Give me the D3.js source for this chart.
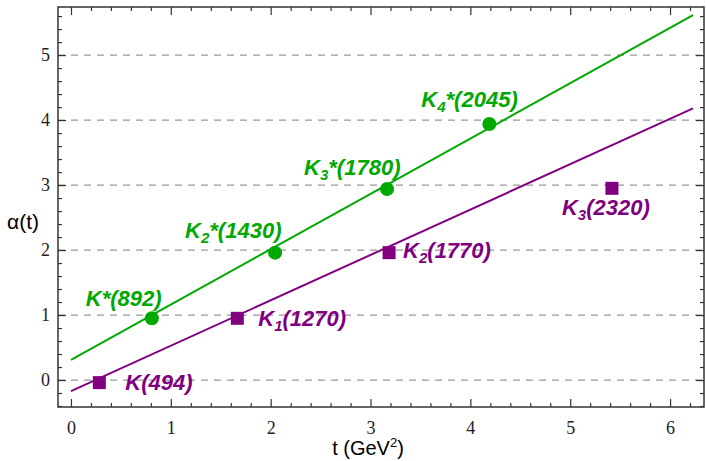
<!DOCTYPE html>
<html>
<head>
<meta charset="utf-8">
<script src="https://cdn.jsdelivr.net/npm/d3@7"></script>
<style>
  body { margin: 0; background: #fff; }
  svg { display: block; }
  .tick text { font-family: "Liberation Serif", "DejaVu Serif", serif !important; font-size: 18px; fill: #222; }
</style>
</head>
<body>
<div id="chart"></div>
<script>
// Regge trajectories
const vectorNames = ['K*(892)', 'K2*(1430)', 'K3*(1780)', 'K4*(2045)'];
const vectorT = [0.81, 2.044, 3.166, 4.19];
const vectorAlpha = [0.95, 1.96, 2.94, 3.94];
const vectorLabels = [['K', '', '*(892)'], ['K', '2', '*(1430)'], ['K', '3', '*(1780)'], ['K', '4', '*(2045)']];

const pseudoNames = ['K(494)', 'K1(1270)', 'K2(1770)', 'K3(2320)'];
const pseudoT = [0.284, 1.666, 3.186, 5.418];
const pseudoAlpha = [-0.04, 0.95, 1.96, 2.95];
const pseudoLabels = [['K', '', '(494)'], ['K', '1', '(1270)'], ['K', '2', '(1770)'], ['K', '3', '(2320)']];

// fitted lines: [t, alpha] end points
const vectorLine = [[0, 0.31], [6.23, 5.615]];
const pseudoLine = [[0, -0.17], [6.23, 4.18]];

const xTicks = [0, 1, 2, 3, 4, 5, 6];
const yTicks = [0, 1, 2, 3, 4, 5];

const width = 706, height = 461;
const margin = {left: 58, right: 2, top: 7, bottom: 54};

const green = '#00a800';
const purple = '#800080';

const svg = d3.select('#chart').append('svg')
    .attr('width', width)
    .attr('height', height);

const x = d3.scaleLinear()
    .domain([-0.13, 6.34])
    .range([margin.left, width - margin.right]);

const y = d3.scaleLinear()
    .domain([-0.415, 5.74])
    .range([height - margin.bottom, margin.top]);

const minorX = d3.range(0, 32).map(i => i * 0.2).filter(v => v <= 6.34 && Math.abs(v - Math.round(v)) > 0.01);
const minorY = d3.range(-2, 29).map(i => i * 0.2).filter(v => v >= -0.415 && v <= 5.74 && Math.abs(v - Math.round(v)) > 0.01);

// dashed grid lines
svg.append('g')
  .selectAll('line')
  .data(yTicks)
  .join('line')
    .attr('x1', x.range()[0])
    .attr('x2', x.range()[1])
    .attr('y1', d => y(d))
    .attr('y2', d => y(d))
    .attr('stroke', '#999')
    .attr('stroke-width', 1.2)
    .attr('stroke-dasharray', '7,6');

// axes on all four sides, ticks pointing in
function styleAxis(g) {
  g.select('.domain').remove();
  g.selectAll('line').attr('stroke', '#333').attr('stroke-width', 1.2);
}

const plotBottom = y.range()[0], plotTop = y.range()[1];
const plotLeft = x.range()[0], plotRight = x.range()[1];

svg.append('g')
    .attr('transform', `translate(0,${plotBottom})`)
    .call(d3.axisBottom(x).tickValues(xTicks).tickSize(-8).tickPadding(14).tickFormat(d3.format('d')))
    .call(styleAxis);
svg.append('g')
    .attr('transform', `translate(0,${plotBottom})`)
    .call(d3.axisBottom(x).tickValues(minorX).tickSize(-4).tickFormat(''))
    .call(styleAxis);
svg.append('g')
    .attr('transform', `translate(0,${plotTop})`)
    .call(d3.axisTop(x).tickValues(xTicks).tickSize(-8).tickFormat(''))
    .call(styleAxis);
svg.append('g')
    .attr('transform', `translate(0,${plotTop})`)
    .call(d3.axisTop(x).tickValues(minorX).tickSize(-4).tickFormat(''))
    .call(styleAxis);

svg.append('g')
    .attr('transform', `translate(${plotLeft},0)`)
    .call(d3.axisLeft(y).tickValues(yTicks).tickSize(-8).tickPadding(8).tickFormat(d3.format('d')))
    .call(styleAxis);
svg.append('g')
    .attr('transform', `translate(${plotLeft},0)`)
    .call(d3.axisLeft(y).tickValues(minorY).tickSize(-4).tickFormat(''))
    .call(styleAxis);
svg.append('g')
    .attr('transform', `translate(${plotRight},0)`)
    .call(d3.axisRight(y).tickValues(yTicks).tickSize(-8).tickFormat(''))
    .call(styleAxis);
svg.append('g')
    .attr('transform', `translate(${plotRight},0)`)
    .call(d3.axisRight(y).tickValues(minorY).tickSize(-4).tickFormat(''))
    .call(styleAxis);

// frame
svg.append('rect')
    .attr('x', plotLeft)
    .attr('y', plotTop)
    .attr('width', plotRight - plotLeft)
    .attr('height', plotBottom - plotTop)
    .attr('fill', 'none')
    .attr('stroke', '#333')
    .attr('stroke-width', 1.5);

// trajectories
const line = d3.line().x(d => x(d[0])).y(d => y(d[1]));
svg.append('path').attr('d', line(vectorLine)).attr('stroke', green).attr('stroke-width', 2).attr('fill', 'none');
svg.append('path').attr('d', line(pseudoLine)).attr('stroke', purple).attr('stroke-width', 2).attr('fill', 'none');

// markers
svg.append('g').selectAll('circle')
  .data(vectorT)
  .join('circle')
    .attr('cx', d => x(d))
    .attr('cy', (d, i) => y(vectorAlpha[i]))
    .attr('r', 7)
    .attr('fill', green);

svg.append('g').selectAll('rect')
  .data(pseudoT)
  .join('rect')
    .attr('x', d => x(d) - 6.5)
    .attr('y', (d, i) => y(pseudoAlpha[i]) - 6.5)
    .attr('width', 13)
    .attr('height', 13)
    .attr('fill', purple);

// label offsets from marker centre (px)
const vectorOffsets = [[-66, -12], [-90, -15], [-83, -14], [-68, -17]];
const pseudoOffsets = [[26, 7], [21, 8], [14, 5], [-50, 27]];

function addLabels(ts, alphas, labels, offsets, color) {
  const txt = svg.append('g').selectAll('text')
    .data(labels)
    .join('text')
      .attr('x', (d, i) => x(ts[i]) + offsets[i][0])
      .attr('y', (d, i) => y(alphas[i]) + offsets[i][1])
      .attr('font-family', '"Liberation Sans", Arial, sans-serif')
      .attr('font-weight', 'bold')
      .attr('font-style', 'italic')
      .attr('font-size', 22)
      .attr('fill', color);
  txt.append('tspan').text(d => d[0]);
  txt.append('tspan')
      .attr('font-size', 15)
      .attr('dy', d => d[1] ? 5 : 0)
      .text(d => d[1]);
  txt.append('tspan')
      .attr('dy', d => d[1] ? -5 : 0)
      .text(d => d[2]);
}

addLabels(vectorT, vectorAlpha, vectorLabels, vectorOffsets, green);
addLabels(pseudoT, pseudoAlpha, pseudoLabels, pseudoOffsets, purple);

// axis titles
svg.append('text')
    .attr('x', 23)
    .attr('y', 229)
    .attr('text-anchor', 'middle')
    .attr('font-family', '"Liberation Sans", Arial, sans-serif')
    .attr('font-size', 21)
    .text('α(t)');

const xTitle = svg.append('text')
    .attr('x', 368)
    .attr('y', 455)
    .attr('text-anchor', 'middle')
    .attr('font-family', '"Liberation Sans", Arial, sans-serif')
    .attr('font-size', 20);
xTitle.append('tspan').text('t (GeV');
xTitle.append('tspan').attr('font-size', 13).attr('dy', -8).text('2');
xTitle.append('tspan').attr('dy', 8).text(')');
</script>
</body>
</html>
